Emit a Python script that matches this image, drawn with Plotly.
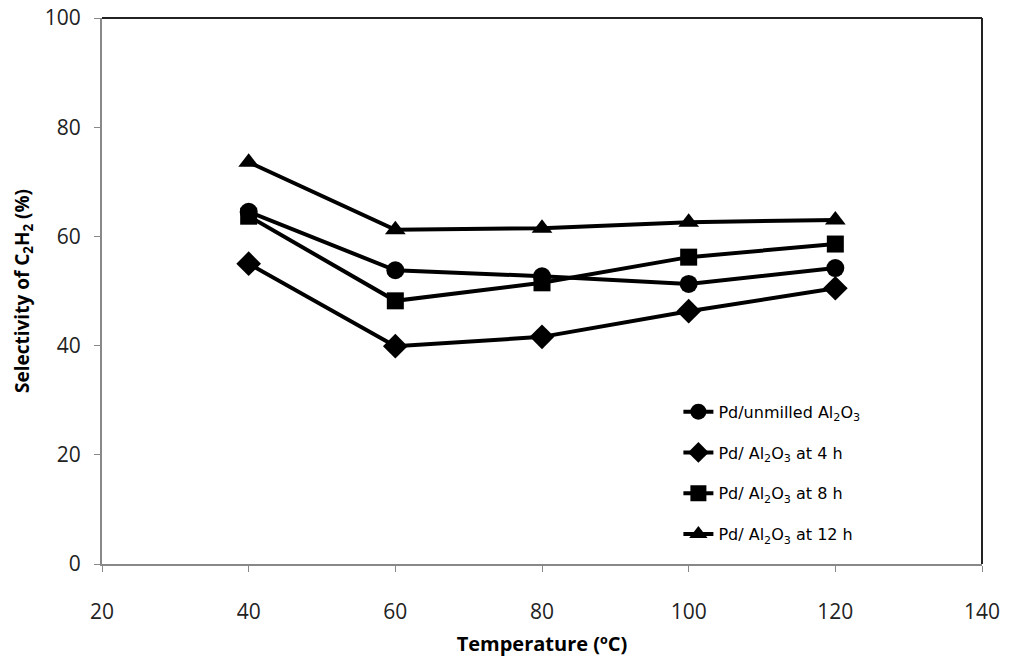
import plotly.graph_objects as go

temperature = [40, 60, 80, 100, 120]
unmilled = [64.5, 53.8, 52.7, 51.3, 54.2]
milled_4h = [55.0, 39.9, 41.6, 46.3, 50.5]
milled_8h = [63.7, 48.2, 51.5, 56.2, 58.6]
milled_12h = [73.6, 61.2, 61.5, 62.6, 63.0]

series_names = [
    "Pd/unmilled Al<sub>2</sub>O<sub>3</sub>",
    "Pd/ Al<sub>2</sub>O<sub>3</sub> at 4 h",
    "Pd/ Al<sub>2</sub>O<sub>3</sub> at 8 h",
    "Pd/ Al<sub>2</sub>O<sub>3</sub> at 12 h",
]
series_values = [unmilled, milled_4h, milled_8h, milled_12h]
symbols = ["circle", "diamond", "square", "triangle-up"]
sizes = [18, 19, 17, 18]

x_ticks = [20, 40, 60, 80, 100, 120, 140]
y_ticks = [0, 20, 40, 60, 80, 100]

fig = go.Figure()
for i, (name, vals, sym, sz) in enumerate(zip(series_names, series_values, symbols, sizes)):
    fig.add_trace(go.Scatter(
        x=temperature, y=vals, name=name, mode="lines+markers",
        line=dict(color="black", width=4),
        marker=dict(symbol=sym, size=sz, color="black"),
        legendgroup=f"g{i}",
    ))

fig.update_layout(
    width=1010, height=663,
    margin=dict(l=102, r=28, t=18, b=99, autoexpand=False),
    paper_bgcolor="white", plot_bgcolor="white",
    font=dict(family="Open Sans", color="black"),
    showlegend=True,
    legend=dict(
        x=0.655, y=0.31, xanchor="left", yanchor="top",
        bgcolor="rgba(0,0,0,0)", traceorder="grouped", tracegroupgap=17,
        font=dict(family="DejaVu Sans", size=16, color="black"),
    ),
    xaxis=dict(
        range=[20, 140], tickvals=x_ticks, ticktext=[str(v) for v in x_ticks],
        showgrid=False, zeroline=False, showline=True, linecolor="#888888", linewidth=2,
        ticks="outside", ticklen=6, tickcolor="#888888", tickwidth=1,
        tickfont=dict(family="Open Sans", size=21, color="#222222"),
        ticklabelstandoff=22, automargin=False, ticklabeloverflow="allow",
        title=dict(text="Temperature (ºC)", font=dict(family="Open Sans", size=20, weight="bold"), standoff=13),
    ),
    yaxis=dict(
        range=[0, 100], tickvals=y_ticks, ticktext=[str(v) for v in y_ticks],
        showgrid=False, zeroline=False, showline=True, linecolor="#888888", linewidth=2,
        ticks="outside", ticklen=6, tickcolor="#888888", tickwidth=1,
        tickfont=dict(family="Open Sans", size=21, color="#222222"),
        ticklabelstandoff=9, automargin=False, ticklabeloverflow="allow",
        title=dict(text="Selectivity of C<sub>2</sub>H<sub>2</sub> (%)", font=dict(family="Open Sans", size=19, weight="bold"), standoff=10),
    ),
)

# plot-area frame: top and right edges
fig.add_shape(type="line", xref="paper", yref="paper", x0=0, x1=1, y0=1, y1=1,
              line=dict(color="#222222", width=2), layer="above")
fig.add_shape(type="line", xref="paper", yref="paper", x0=1, x1=1, y0=0, y1=1,
              line=dict(color="#222222", width=2), layer="above")

fig.write_html("out.html", config={"displayModeBar": False},
               post_script="document.body.style.margin='0';")
